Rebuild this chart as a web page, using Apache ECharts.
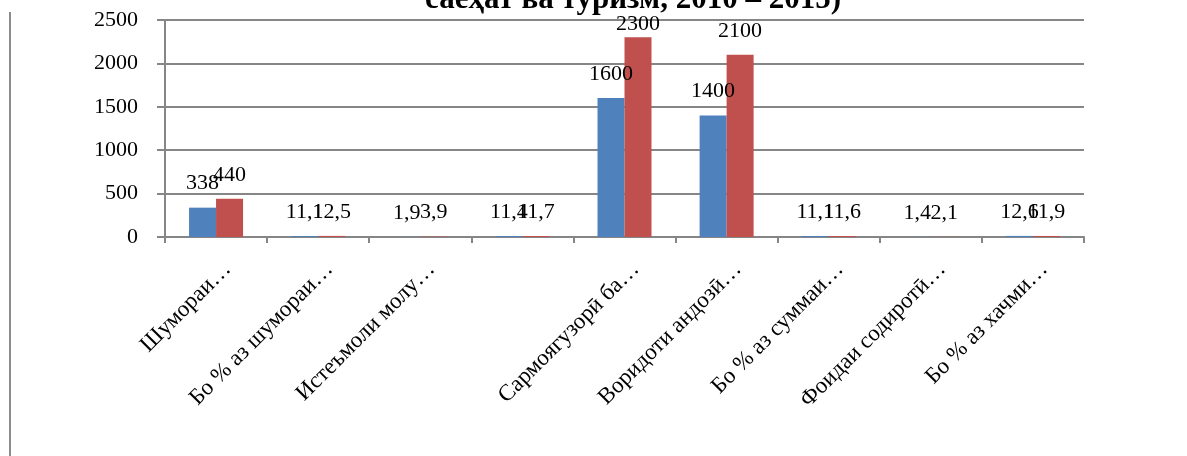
<!DOCTYPE html>
<html><head><meta charset="utf-8">
<script src="https://cdn.jsdelivr.net/npm/echarts@6/dist/echarts.min.js"></script>
<style>html,body{margin:0;padding:0;background:#fff}#c{width:1187px;height:456px}</style>
</head><body><div id="c"></div>
<script>
const titleText = 'саёҳат ва туризм, 2010 – 2015)';
const categories = ['Шумораи…', 'Бо % аз шумораи…', 'Истеъмоли молу…', '', 'Сармоягузорӣ ба…', 'Воридоти андозӣ…', 'Бо % аз суммаи…', 'Фоидаи содиротӣ…', 'Бо % аз хачми…'];
const seriesA = [338, 11.1, 1.9, 11.4, 1600, 1400, 11.1, 1.4, 12.6];
const seriesB = [440, 12.5, 3.9, 11.7, 2300, 2100, 11.6, 2.1, 11.9];
const yTicks = [0, 500, 1000, 1500, 2000, 2500];

const FONT = '"Liberation Serif", "Times New Roman", serif';
const Y_MAX = yTicks[yTicks.length - 1];
const chart = echarts.init(document.getElementById('c'));
const lbl = {
  show: true, position: 'top', distance: 13, color: '#000',
  fontFamily: FONT, fontSize: 22,
  formatter: p => String(p.value).replace('.', ',')
};
// labels that would run past the plot top are pulled down onto the bar (as in Excel)
const toData = arr => arr.map(v => (v / Y_MAX > 0.9 ? { value: v, label: { distance: 2 } } : v));
chart.setOption({
  animation: false,
  title: {
    text: titleText, left: 628, top: -21, textAlign: 'center',
    textStyle: { fontFamily: FONT, fontSize: 31, fontWeight: 'bold', color: '#000' }
  },
  graphic: [{
    type: 'line', shape: { x1: 10, y1: 12, x2: 10, y2: 456 },
    style: { stroke: '#8c8c8c', lineWidth: 2 }
  }],
  grid: { left: 165, right: 103, top: 20, bottom: 219, containLabel: false },
  xAxis: {
    type: 'category', data: categories,
    axisLine: { lineStyle: { color: '#868686', width: 2 } },
    axisTick: { show: true, length: 6, lineStyle: { color: '#868686', width: 2 } },
    axisLabel: { rotate: 45, interval: 0, margin: 40, padding: [0, -16, 0, 0], color: '#000', fontFamily: FONT, fontSize: 23 }
  },
  yAxis: {
    type: 'value', min: yTicks[0], max: Y_MAX, interval: 500,
    axisLine: { show: true, lineStyle: { color: '#868686', width: 2 } },
    axisTick: { show: true, length: 8, lineStyle: { color: '#868686', width: 2 } },
    splitLine: { lineStyle: { color: '#868686', width: 2 } },
    axisLabel: { margin: 27, color: '#000', fontFamily: FONT, fontSize: 22, formatter: v => String(v) }
  },
  series: [
    { type: 'bar', data: toData(seriesA), barWidth: 27, barGap: '0%', itemStyle: { color: '#4F81BD' }, label: lbl },
    { type: 'bar', data: toData(seriesB), barWidth: 27, barGap: '0%', itemStyle: { color: '#C0504D' }, label: lbl }
  ]
});
</script></body></html>
